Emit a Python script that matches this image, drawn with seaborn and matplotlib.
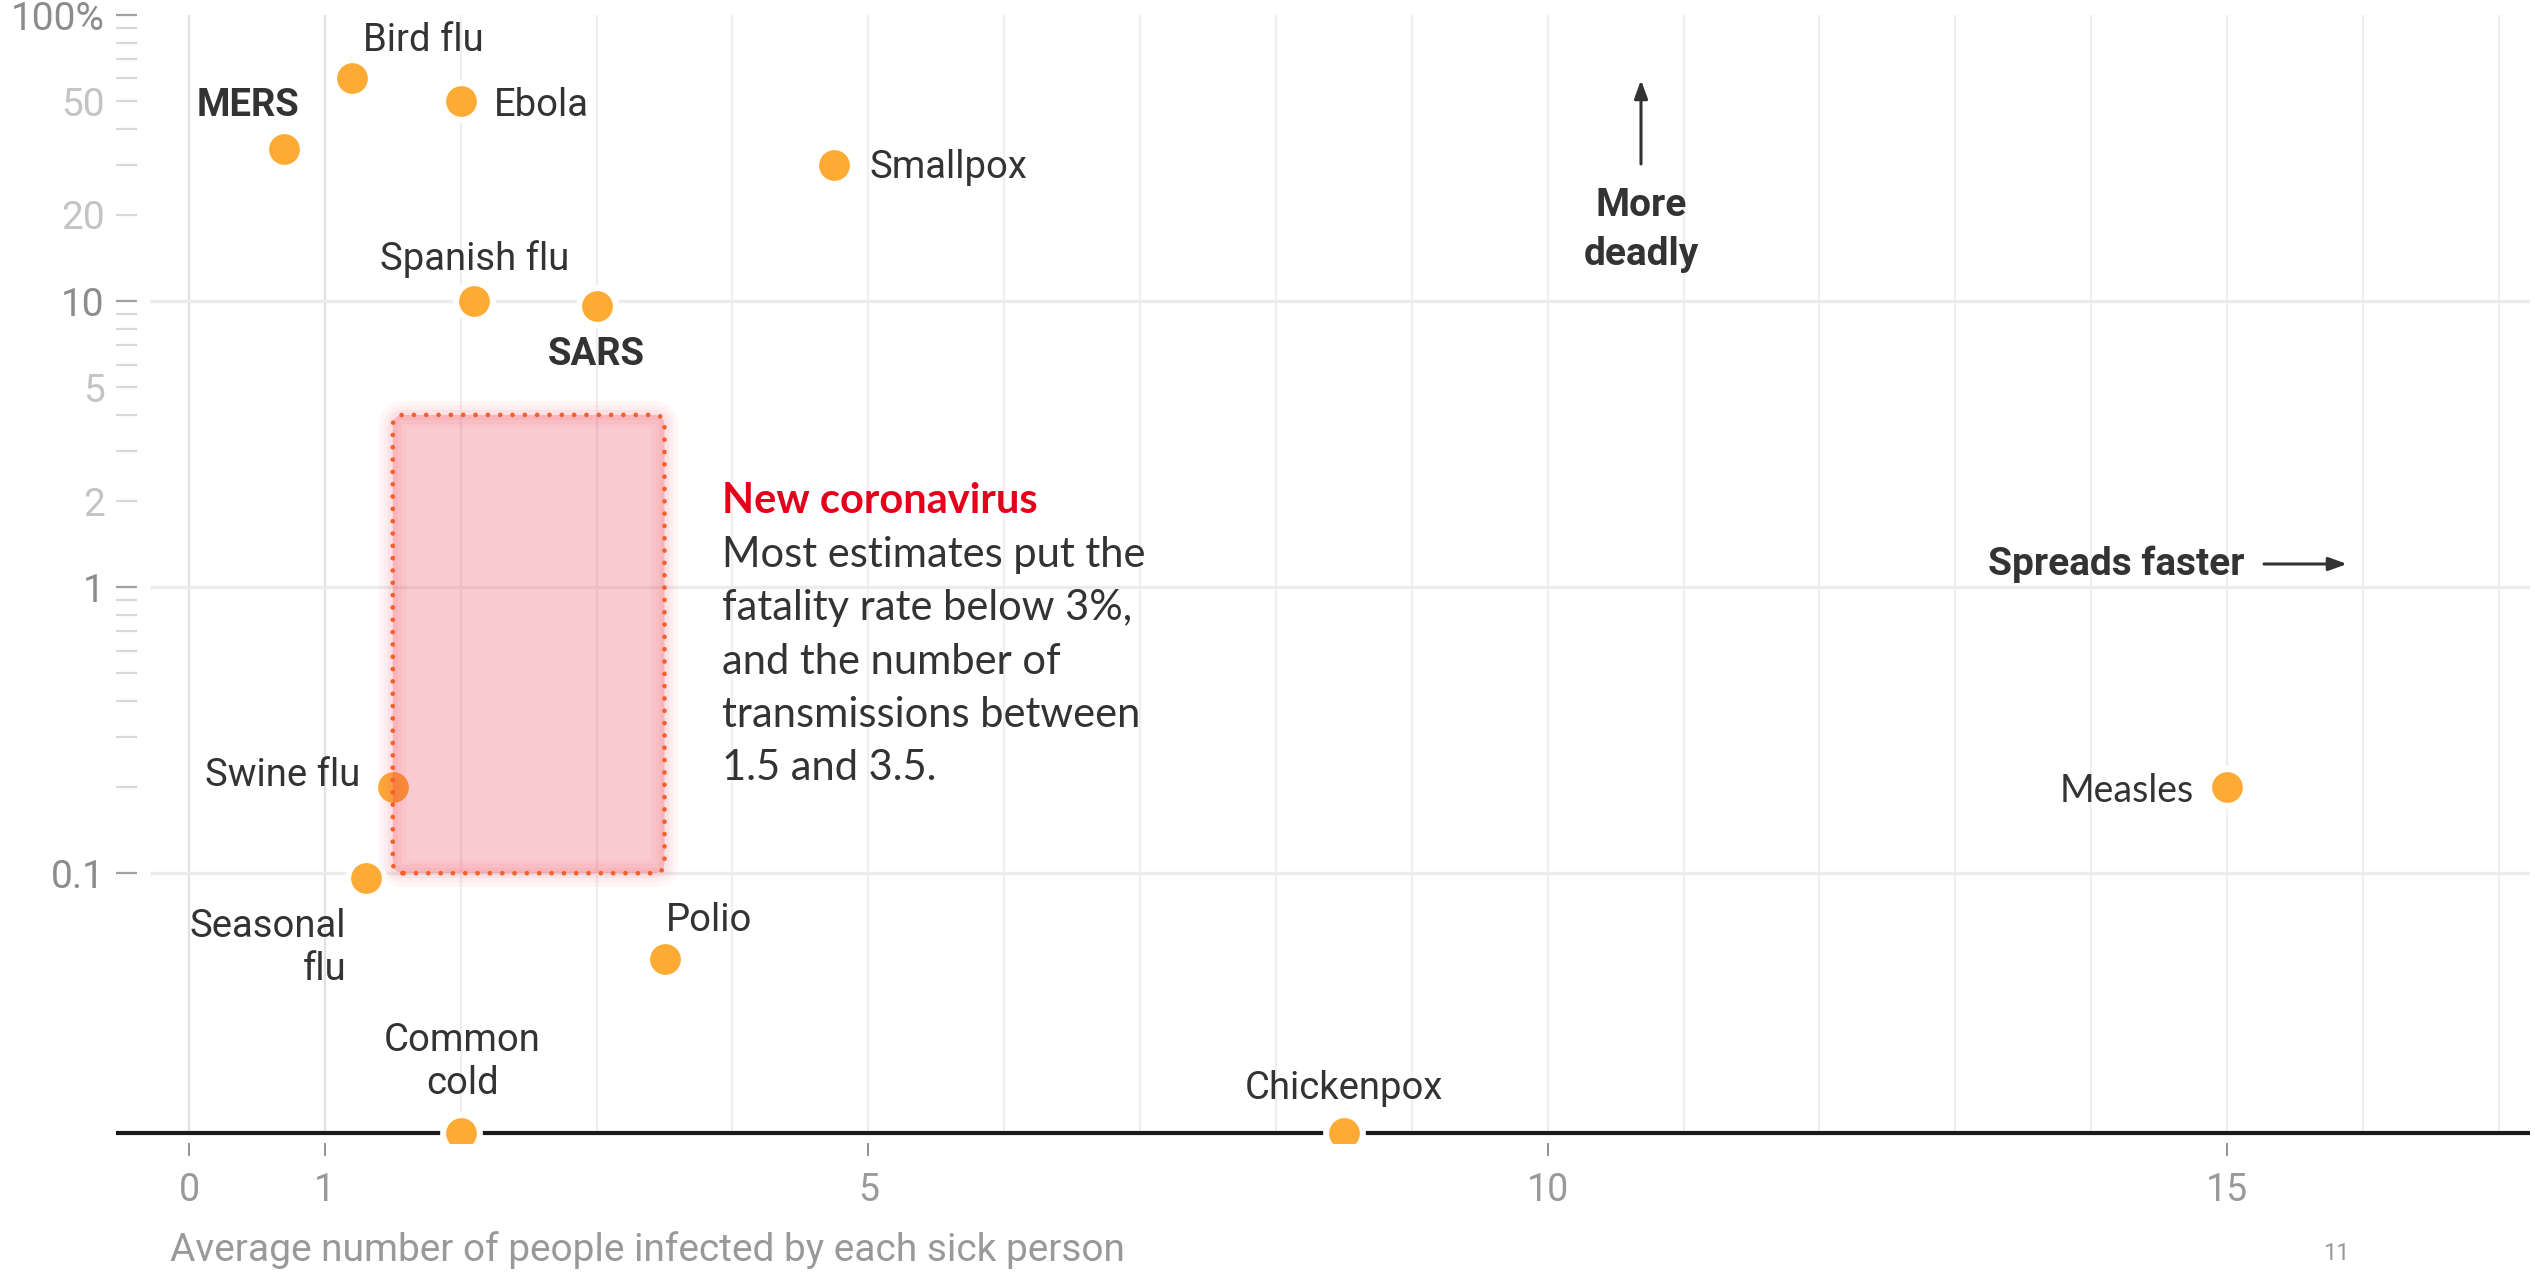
import numpy as np
import pandas as pd
import matplotlib.pyplot as plt
import seaborn as sns
from matplotlib.patches import FancyBboxPatch

W, H = 2535, 1275

# chart values
diseases = ['MERS', 'Bird flu', 'Ebola', 'Smallpox', 'Spanish flu', 'SARS',
            'Swine flu', 'Seasonal flu', 'Polio', 'Common cold', 'Chickenpox', 'Measles']
r0 = [0.7, 1.2, 2.0, 4.75, 2.1, 3.0, 1.5, 1.3, 3.5, 2.0, 8.5, 15.0]
fatality = [34, 60, 50, 30, 10, 9.6, 0.2, 0.096, 0.05, 0, 0, 0.2]
cov_r0 = (1.5, 3.5)
cov_fatality = (0.1, 4.0)

x_ticks = [0, 1, 5, 10, 15]
y_major = [0.1, 1, 10, 100]
y_major_labels = ['0.1', '1', '10', '100%']
y_minor = [0.2, 0.3, 0.4, 0.5, 0.6, 0.7, 0.8, 0.9,
           2, 3, 4, 5, 6, 7, 8, 9,
           20, 30, 40, 50, 60, 70, 80, 90]
y_minor_labels = ['' if v not in (2, 5, 20, 50) else str(v) for v in y_minor]

sns.set_style('white')
plt.rcParams['font.family'] = ['Roboto', 'DejaVu Sans']

TXT = '#333333'
ORANGE = '#fdab34'

fig = plt.figure(figsize=(W / 100, H / 100), dpi=100)
ax = fig.add_axes([116 / W, 1 - 1143 / H, (2530 - 116) / W, (1143 - 15) / H])

y_bottom = 0.0114
floor = y_bottom * 10 ** (10 / 286)   # zero fatality sits on the baseline
ax.set_yscale('log')
ax.set_xlim(-0.537, 17.23)
ax.set_ylim(y_bottom, 100)

df = pd.DataFrame({'disease': diseases, 'r0': r0, 'fatality': fatality})
df['plot_y'] = df['fatality'].where(df['fatality'] > 0, floor)

# grid
for v in range(0, 18):
    c = '#e2e2e2' if v in (0, 1) else '#efefef'
    ax.vlines(v, floor, 100, color=c, lw=1.6, zorder=0)
ax.hlines([0.1, 1, 10], -0.29, 17.23, color='#ececec', lw=2.4, zorder=0)
ax.axhline(floor, color='#1a1a1a', lw=3, zorder=3)

sns.scatterplot(data=df, x='r0', y='plot_y', s=700, color=ORANGE,
                edgecolor='white', linewidth=4.3, zorder=5, ax=ax, legend=False)

# new coronavirus range
to_ax = ax.transData + ax.transAxes.inverted()
(x0, y0), (x1, y1) = to_ax.transform([(cov_r0[0], cov_fatality[0]), (cov_r0[1], cov_fatality[1])])
aspect = (2530 - 116) / (1143 - 15)
for lw, a in zip([20, 13, 7], [0.05, 0.06, 0.08]):
    glow = FancyBboxPatch((x0, y0), x1 - x0, y1 - y0, boxstyle='round,pad=0,rounding_size=0.0045',
                          mutation_aspect=aspect, transform=ax.transAxes,
                          facecolor='none', edgecolor='#f26070', alpha=a, linewidth=lw, zorder=6)
    ax.add_patch(glow)
box = FancyBboxPatch((x0, y0), x1 - x0, y1 - y0, boxstyle='round,pad=0,rounding_size=0.0045',
                     mutation_aspect=aspect, transform=ax.transAxes,
                     facecolor=(0.93, 0.16, 0.23, 0.24), edgecolor='#f4602a',
                     linewidth=3.4, linestyle=(0, (0.01, 2.6)), zorder=7)
box.set_capstyle('round')
ax.add_patch(box)

# point labels: (dx, dy in points, ha)
label_pos = {
    'MERS': (-26, 31, 'center'), 'Bird flu': (8, 27, 'left'), 'Ebola': (24, -3, 'left'),
    'Smallpox': (25, -2, 'left'), 'Spanish flu': (0, 30, 'center'), 'SARS': (0, -35, 'center'),
    'Swine flu': (-23, 8, 'right'), 'Seasonal flu': (-14, -50, 'right'),
    'Polio': (1, 28, 'left'), 'Common cold': (1, 51, 'center'), 'Chickenpox': (0, 32, 'center'),
    'Measles': (-24, -3, 'right'),
}
display_names = {'Seasonal flu': 'Seasonal\nflu', 'Common cold': 'Common\ncold'}
for name, x, y in zip(df['disease'], df['r0'], df['plot_y']):
    dx, dy, ha = label_pos[name]
    bold = name in ('MERS', 'SARS')
    fam = ['Lato', 'DejaVu Sans'] if name == 'Measles' else ['Roboto', 'DejaVu Sans']
    ax.annotate(display_names.get(name, name), (x, y), xytext=(dx, dy), textcoords='offset points',
                ha=ha, va='center', multialignment=ha, fontsize=27 if name == 'Measles' else 27.5,
                fontweight='bold' if bold else 'normal', color=TXT, family=fam,
                linespacing=1.2, zorder=8)

# axes styling
for s in ax.spines.values():
    s.set_visible(False)
ax.set_xticks(x_ticks)
ax.set_xticklabels([str(v) for v in x_ticks])
ax.tick_params(axis='x', bottom=True, direction='out', length=9, width=1.3, color='#8a8a8a',
               pad=12, labelsize=27, labelcolor='#999999')
ax.set_yticks(y_major, y_major_labels)
ax.set_yticks(y_minor, y_minor_labels, minor=True)
ax.tick_params(axis='y', which='major', left=True, direction='in', length=15, width=1.6,
               color='#a0a0a0', pad=8, labelsize=28, labelcolor='#8c8c8c')
ax.tick_params(axis='y', which='minor', left=True, direction='in', length=15, width=1.6,
               color='#d8d8d8', pad=8, labelsize=28, labelcolor='#c4c4c4')
ax.set_xlabel('')
ax.set_ylabel('')


def fxy(px, py):
    return (px / W, 1 - py / H)


# coronavirus note
fig.text(*fxy(722, 513), 'New coronavirus', fontsize=30, fontweight='bold', color='#e3001b',
         family=['Lato', 'DejaVu Sans'], va='baseline')
body = ['Most estimates put the', 'fatality rate below 3%,', 'and the number of',
        'transmissions between', '1.5 and 3.5.']
for i, line in enumerate(body):
    fig.text(*fxy(722, 567 + 53.3 * i), line, fontsize=30, color=TXT,
             family=['Lato', 'DejaVu Sans'], va='baseline')

# direction hints
fig.text(*fxy(1641, 230), 'More\ndeadly', fontsize=28, fontweight='bold', color=TXT,
         ha='center', va='center', linespacing=1.4)
ax.annotate('', xy=fxy(1641, 80), xytext=fxy(1641, 164), xycoords='figure fraction',
            arrowprops=dict(arrowstyle='-|>,head_length=1.1,head_width=0.4', lw=2.2,
                            color=TXT, shrinkA=0, shrinkB=0))
fig.text(*fxy(2245, 564), 'Spreads faster', fontsize=28, fontweight='bold', color=TXT,
         ha='right', va='center')
ax.annotate('', xy=fxy(2347, 564), xytext=fxy(2264, 564), xycoords='figure fraction',
            arrowprops=dict(arrowstyle='-|>,head_length=1.1,head_width=0.4', lw=2.2,
                            color=TXT, shrinkA=0, shrinkB=0))

fig.text(*fxy(170, 1250), 'Average number of people infected by each sick person',
         fontsize=28, color='#999999', va='center')
fig.text(*fxy(2336, 1253), '11', fontsize=17, color='#999999', ha='center', va='center')

fig.savefig('out.png', dpi=100)
